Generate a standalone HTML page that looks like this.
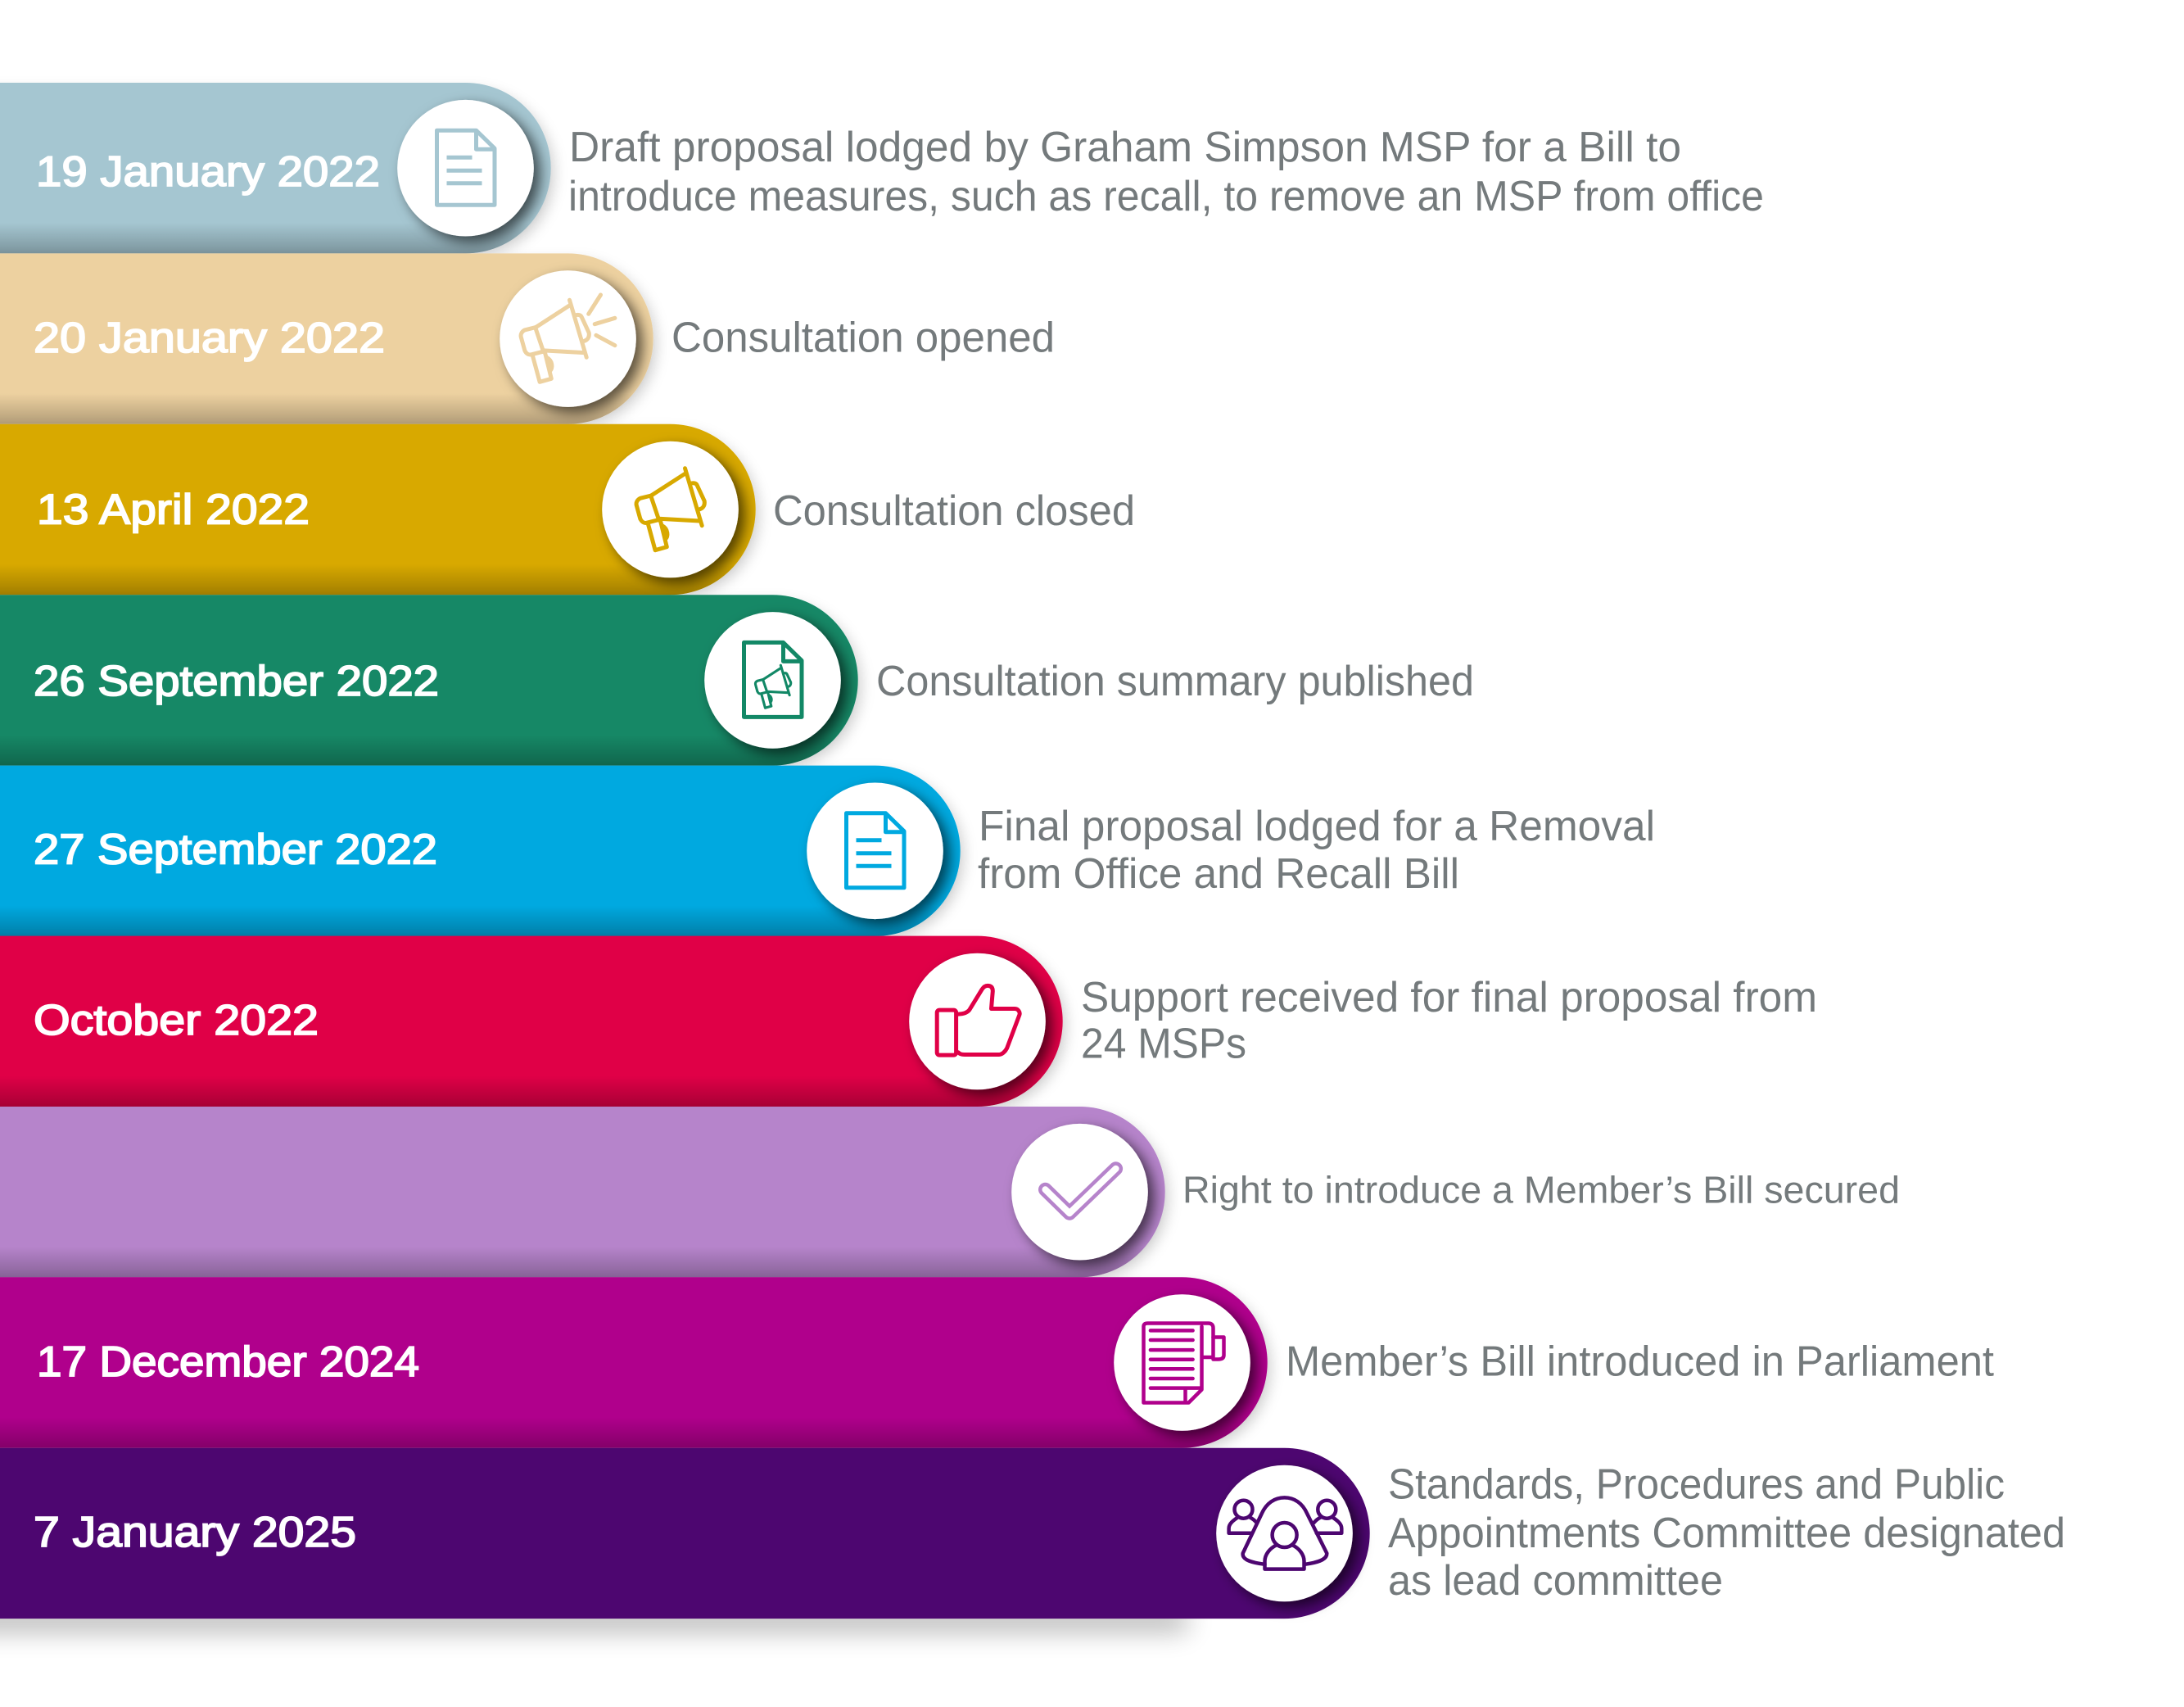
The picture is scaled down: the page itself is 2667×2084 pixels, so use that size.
<!DOCTYPE html>
<html lang="en">
<head>
<meta charset="utf-8">
<title>Member's Bill timeline</title>
<style>
html,body{margin:0;padding:0;background:#fff;}
svg{display:block;}
.date{font-family:"Liberation Sans",sans-serif;font-size:52px;fill:#fff;stroke:#fff;stroke-width:1.8px;}
.desc{font-family:"Liberation Sans",sans-serif;font-size:52px;fill:#747a7c;}
.desc2{font-family:"Liberation Sans",sans-serif;font-size:46px;fill:#747a7c;}
.ic{fill:none;stroke-linejoin:round;stroke-linecap:round;}
</style>
</head>
<body>
<svg xmlns="http://www.w3.org/2000/svg" width="2667" height="2084" viewBox="0 0 2667 2084">
<defs>
  <linearGradient id="bottomShade" x1="0" y1="0" x2="0" y2="1">
    <stop offset="0.82" stop-color="#000" stop-opacity="0"/>
    <stop offset="1" stop-color="#000" stop-opacity="0.25"/>
  </linearGradient>
  <filter id="circleShadow" x="-30%" y="-30%" width="170%" height="170%">
    <feDropShadow dx="8" dy="7" stdDeviation="8" flood-color="#000" flood-opacity="0.62"/>
  </filter>
  <filter id="capShadow" x="-10%" y="-20%" width="125%" height="150%">
    <feDropShadow dx="7" dy="6" stdDeviation="7" flood-color="#000" flood-opacity="0.13"/>
  </filter>
  <filter id="baseBlur" x="-10%" y="-200%" width="120%" height="500%">
    <feGaussianBlur stdDeviation="16"/>
  </filter>
  <g id="docOutline">
    <path d="M-35,-46 H13 L35.500,-24 V45 H-35 Z M13,-46 V-23 H35.500"/>
  </g>
  <g id="docLines">
    <path d="M-23,-13 H8 M-23,3 H20 M-23,18.500 H20" stroke-linecap="butt"/>
  </g>
  <g id="megaphone">
    <path d="M18,-50.300 L38.700,19.700"/>
    <path d="M-23.300,-17 L18,-43.700"/>
    <path d="M-13.800,11.300 L36,14"/>
    <path d="M-23.300,-17 L-36.700,-13.700 C-40,-12 -42,-9 -41.300,-5.300 L-36.700,11.300 C-35,15 -32,17 -29,16.300 L-13.800,12.500"/>
    <path d="M-23.300,-15.300 L-13.800,13"/>
    <path d="M-27.200,17.300 L-18.400,49.700 L-4.200,45.700 L-11.800,14.700"/>
    <path d="M-9.900,19.700 C-2.300,24 -2.300,33 -6,36.300"/>
    <path d="M24,-31.500 C29,-33 32,-32 33,-29 L41.700,-10.300 C42.500,-5 40,-1.500 36,-0.300"/>
  </g>
</defs>

<rect width="2667" height="2084" fill="#fff"/>
<rect x="-60" y="1962" width="1510" height="30" fill="#000" opacity="0.28" filter="url(#baseBlur)"/>

<!-- Row 1 -->
<g>
  <rect x="-300" y="101" width="972.700" height="208.400" rx="104.200" fill="#a5c6d1" filter="url(#capShadow)"/>
  <rect x="-300" y="101" width="972.700" height="208.400" rx="104.200" fill="url(#bottomShade)"/>
  <circle cx="568.500" cy="205.200" r="83.300" fill="#fff" filter="url(#circleShadow)"/>
  <g class="ic" transform="translate(568.500,205.200)" stroke="#a5c6d1" stroke-width="5">
    <use href="#docOutline"/><use href="#docLines"/>
  </g>
  <text class="date" x="44" y="227" textLength="420" lengthAdjust="spacingAndGlyphs">19 January 2022</text>
</g>
<g>
  <text class="desc" x="695" y="197" textLength="1358" lengthAdjust="spacingAndGlyphs">Draft proposal lodged by Graham Simpson MSP for a Bill to</text>
  <text class="desc" x="694" y="257" textLength="1460" lengthAdjust="spacingAndGlyphs">introduce measures, such as recall, to remove an MSP from office</text>
</g>

<!-- Row 2 -->
<g>
  <rect x="-300" y="309.400" width="1097.700" height="208.400" rx="104.200" fill="#edd1a0" filter="url(#capShadow)"/>
  <rect x="-300" y="309.400" width="1097.700" height="208.400" rx="104.200" fill="url(#bottomShade)"/>
  <circle cx="693.500" cy="413.600" r="83.300" fill="#fff" filter="url(#circleShadow)"/>
  <g class="ic" transform="translate(693.500,413.600)" stroke="#edd1a0" stroke-width="5">
    <use href="#megaphone" transform="translate(-16,3)"/>
    <path d="M40,-53.600 L25.200,-30.300 M57.400,-25.300 L32.700,-17.900 M34.400,-4.300 L57.400,8.100"/>
  </g>
  <text class="date" x="41" y="430" textLength="429" lengthAdjust="spacingAndGlyphs">20 January 2022</text>
</g>
<text class="desc" x="820" y="429.500" textLength="468" lengthAdjust="spacingAndGlyphs">Consultation opened</text>

<!-- Row 3 -->
<g>
  <rect x="-300" y="517.800" width="1222.700" height="208.400" rx="104.200" fill="#d8a900" filter="url(#capShadow)"/>
  <rect x="-300" y="517.800" width="1222.700" height="208.400" rx="104.200" fill="url(#bottomShade)"/>
  <circle cx="818.500" cy="622" r="83.300" fill="#fff" filter="url(#circleShadow)"/>
  <g class="ic" transform="translate(818.500,622)" stroke="#d8a900" stroke-width="5">
    <use href="#megaphone"/>
  </g>
  <text class="date" x="45" y="639.500" textLength="333" lengthAdjust="spacingAndGlyphs">13 April 2022</text>
</g>
<text class="desc" x="944" y="641" textLength="442" lengthAdjust="spacingAndGlyphs">Consultation closed</text>

<!-- Row 4 -->
<g>
  <rect x="-300" y="726.200" width="1347.700" height="208.400" rx="104.200" fill="#128866" filter="url(#capShadow)"/>
  <rect x="-300" y="726.200" width="1347.700" height="208.400" rx="104.200" fill="url(#bottomShade)"/>
  <circle cx="943.500" cy="830.400" r="83.300" fill="#fff" filter="url(#circleShadow)"/>
  <g class="ic" transform="translate(943.500,830.400)" stroke="#128866" stroke-width="5">
    <use href="#docOutline"/>
    <g transform="translate(0.500,8) scale(0.52)" stroke-width="6"><use href="#megaphone"/></g>
  </g>
  <text class="date" x="41" y="849" textLength="495" lengthAdjust="spacingAndGlyphs">26 September 2022</text>
</g>
<text class="desc" x="1070" y="849" textLength="730" lengthAdjust="spacingAndGlyphs">Consultation summary published</text>

<!-- Row 5 -->
<g>
  <rect x="-300" y="934.600" width="1472.700" height="208.400" rx="104.200" fill="#00a9e0" filter="url(#capShadow)"/>
  <rect x="-300" y="934.600" width="1472.700" height="208.400" rx="104.200" fill="url(#bottomShade)"/>
  <circle cx="1068.500" cy="1038.800" r="83.300" fill="#fff" filter="url(#circleShadow)"/>
  <g class="ic" transform="translate(1068.500,1038.800)" stroke="#00a9e0" stroke-width="5">
    <use href="#docOutline"/><use href="#docLines"/>
  </g>
  <text class="date" x="41" y="1054.500" textLength="493" lengthAdjust="spacingAndGlyphs">27 September 2022</text>
</g>
<g>
  <text class="desc" x="1195" y="1026" textLength="826" lengthAdjust="spacingAndGlyphs">Final proposal lodged for a Removal</text>
  <text class="desc" x="1194" y="1084" textLength="588" lengthAdjust="spacingAndGlyphs">from Office and Recall Bill</text>
</g>

<!-- Row 6 -->
<g>
  <rect x="-300" y="1142.600" width="1597.700" height="208.400" rx="104.200" fill="#e00047" filter="url(#capShadow)"/>
  <rect x="-300" y="1142.600" width="1597.700" height="208.400" rx="104.200" fill="url(#bottomShade)"/>
  <circle cx="1193.500" cy="1247" r="83.300" fill="#fff" filter="url(#circleShadow)"/>
  <g class="ic" transform="translate(1193.500,1247)" stroke="#e00047" stroke-width="5">
    <rect x="-49.300" y="-13.900" width="23.400" height="55" rx="3"/>
    <path d="M-23.200,-8.900 C-18,-9 -13,-10 -9.800,-13.900 L5.500,-38.900 C8,-43 11.200,-44 14,-43.500 C17,-43 18.800,-41 18.800,-37 L17,-15.500 H45.600 C50,-15.500 52.500,-11 51.400,-8 L36.100,32.800 C34,37 30,40.500 26.500,40.500 H-15.600 C-19,40.500 -22,39.500 -23.200,37.800"/>
  </g>
  <text class="date" x="41" y="1263" textLength="348" lengthAdjust="spacingAndGlyphs">October 2022</text>
</g>
<g>
  <text class="desc" x="1320" y="1235" textLength="899" lengthAdjust="spacingAndGlyphs">Support received for final proposal from</text>
  <text class="desc" x="1320" y="1291.500" textLength="202" lengthAdjust="spacingAndGlyphs">24 MSPs</text>
</g>

<!-- Row 7 -->
<g>
  <rect x="-300" y="1351" width="1722.700" height="208.400" rx="104.200" fill="#b684cb" filter="url(#capShadow)"/>
  <rect x="-300" y="1351" width="1722.700" height="208.400" rx="104.200" fill="url(#bottomShade)"/>
  <circle cx="1318.500" cy="1455.200" r="83.300" fill="#fff" filter="url(#circleShadow)"/>
  <g class="ic" transform="translate(1318.500,1455.200)">
    <path d="M-42,-2.900 L-12.500,26 L44.100,-28.400" stroke="#b684cb" stroke-width="17"/>
    <path d="M-42,-2.900 L-12.500,26 L44.100,-28.400" stroke="#fff" stroke-width="8"/>
  </g>
</g>
<text class="desc2" x="1444" y="1468.500" textLength="876" lengthAdjust="spacingAndGlyphs">Right to introduce a Member’s Bill secured</text>

<!-- Row 8 -->
<g>
  <rect x="-300" y="1559.300" width="1847.700" height="208.400" rx="104.200" fill="#b0008c" filter="url(#capShadow)"/>
  <rect x="-300" y="1559.300" width="1847.700" height="208.400" rx="104.200" fill="url(#bottomShade)"/>
  <circle cx="1443.500" cy="1663.500" r="83.300" fill="#fff" filter="url(#circleShadow)"/>
  <g class="ic" transform="translate(1443.500,1663.500)" stroke="#b0008c" stroke-width="4.500">
    <path d="M24,-8 V33 L8,49 H-47 V-44 Q-47,-48 -42,-48 H32 Q38,-48 38,-42 V-6.500 H24 V-44"/>
    <path d="M38,-31 H51 V-9 Q51,-4 44,-4 H38"/>
    <path d="M-38.600,-39.100 H13.100 M-38.600,-27.500 H13.100 M-38.600,-15.400 H13.100 M-38.600,-3.800 H13.100 M-38.600,7.800 H13.100 M-38.600,19.500 H13.100 M-38.600,31.100 H22 M4,32 V48"/>
  </g>
  <text class="date" x="45" y="1680" textLength="467" lengthAdjust="spacingAndGlyphs">17 December 2024</text>
</g>
<text class="desc" x="1570" y="1679.500" textLength="865" lengthAdjust="spacingAndGlyphs">Member’s Bill introduced in Parliament</text>

<!-- Row 9 -->
<g>
  <rect x="-300" y="1767.700" width="1972.700" height="208.400" rx="104.200" fill="#4d0670"/>
  <circle cx="1568.500" cy="1872" r="83.300" fill="#fff" filter="url(#circleShadow)"/>
  <g class="ic" transform="translate(1568.500,1872)" stroke="#4d0670" stroke-width="4.500">
    <path d="M-24,37.800 C-38,36 -52,33 -50.800,24.400 L-27.800,-24 C-22,-37 -12,-43.600 0.100,-43.600 C12,-43.600 22,-37 27.700,-24 L51.800,24.400 C52,33 38,36 25,37.800"/>
    <circle cx="0.100" cy="2" r="15"/>
    <path d="M-9,14 C-18,18 -24,26 -24,34 V43.600 H24 V34 C24,26 18,18 9,14"/>
    <circle cx="-50" cy="-29.300" r="11"/>
    <path d="M-41.200,-0.200 H-67.900 V-6 C-67.900,-12 -62,-16 -57,-19.500 M-43,-20 C-39,-18 -36,-15.500 -34,-13"/>
    <circle cx="51.800" cy="-29.300" r="11"/>
    <path d="M39.200,-0.200 H69.800 V-6 C69.800,-12 64,-16 59,-19.500 M45,-20 C41,-18 38,-15.500 36,-13"/>
  </g>
  <text class="date" x="41" y="1888" textLength="394" lengthAdjust="spacingAndGlyphs">7 January 2025</text>
</g>
<g>
  <text class="desc" x="1695" y="1829.500" textLength="753" lengthAdjust="spacingAndGlyphs">Standards, Procedures and Public</text>
  <text class="desc" x="1695" y="1889" textLength="827" lengthAdjust="spacingAndGlyphs">Appointments Committee designated</text>
  <text class="desc" x="1695" y="1947" textLength="409" lengthAdjust="spacingAndGlyphs">as lead committee</text>
</g>
</svg>
</body>
</html>
